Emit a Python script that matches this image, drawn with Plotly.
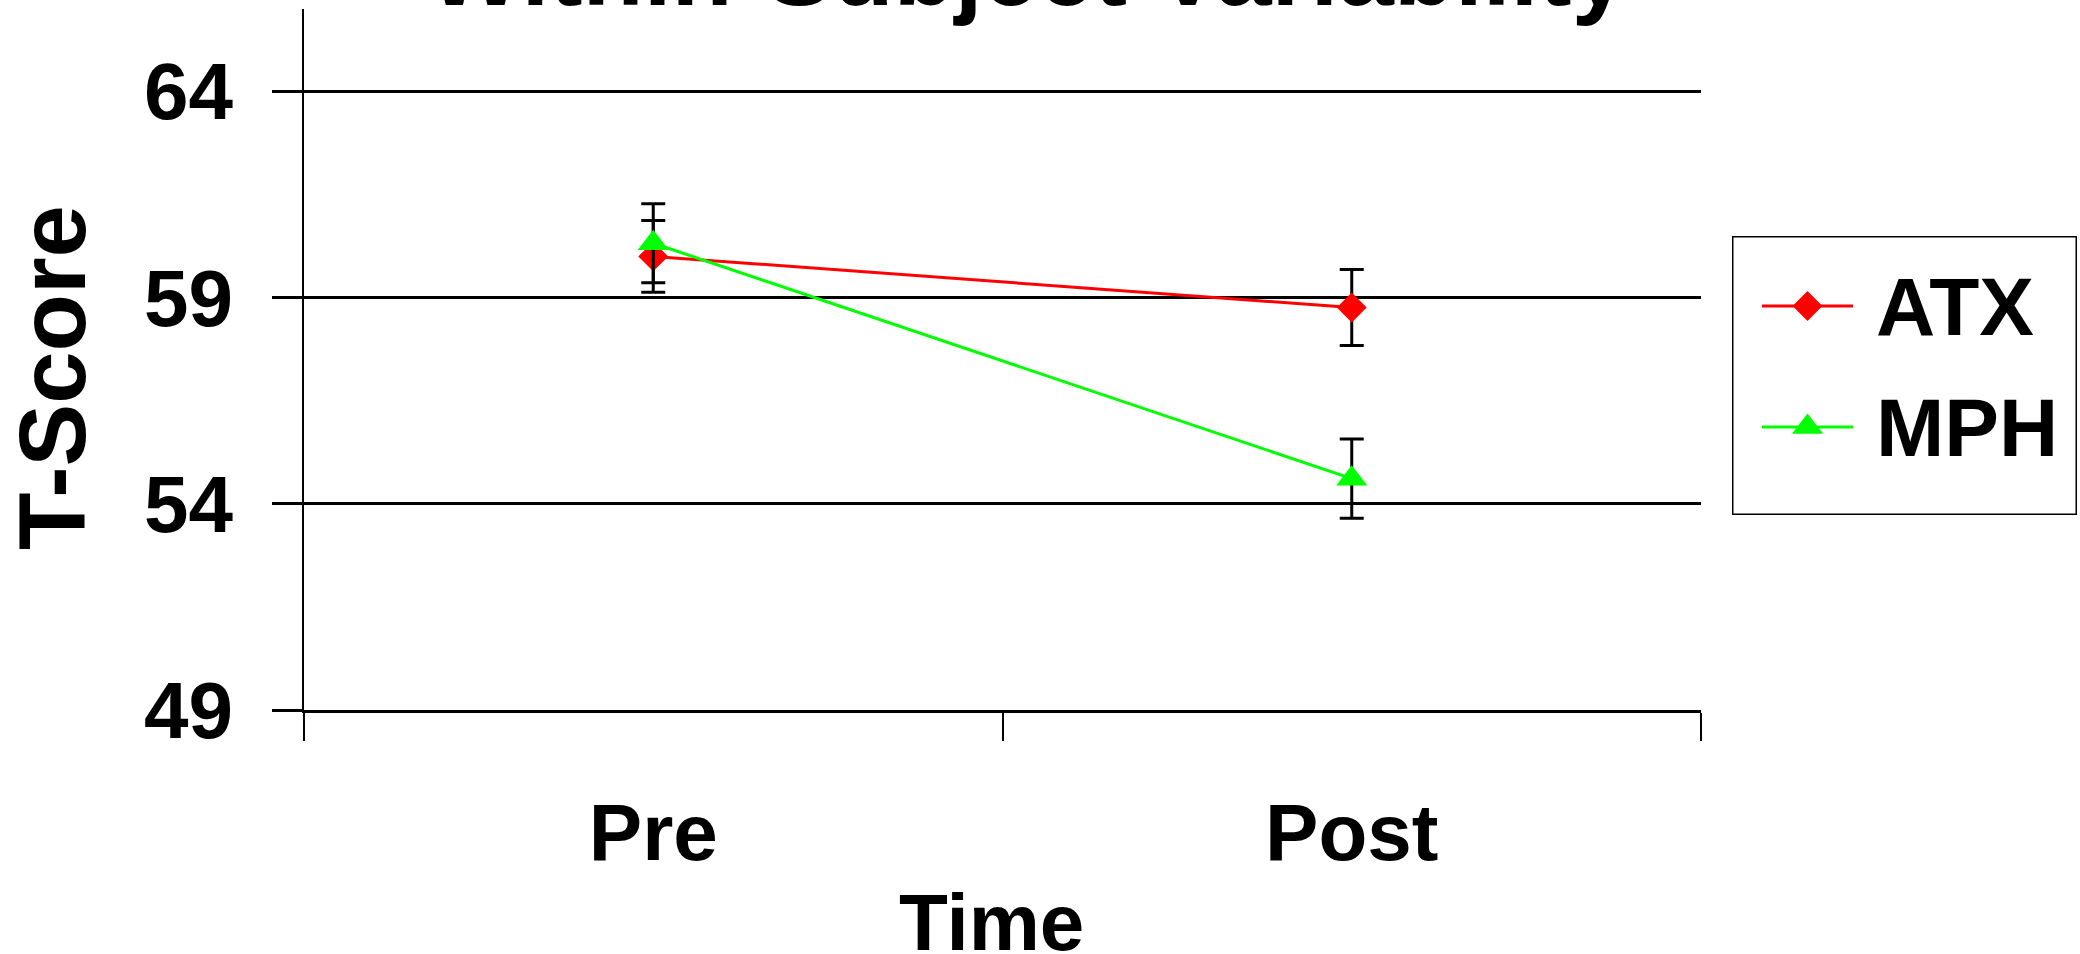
import plotly.graph_objects as go

# ---- data ----
times = ["Pre", "Post"]
atx_mean = [60.0, 58.76]
atx_err = [0.87, 0.92]
mph_mean = [60.32, 54.61]
mph_err = [0.96, 0.96]
series_names = ["ATX", "MPH"]
y_ticks = [49, 54, 59, 64]

W, H = 2080, 954
ML, MR, MT, MB = 304, 0, 9, 244
PW = W - ML - MR
PH = H - MT - MB
PLOT_W = 1397

def px_x(p):
    return (p - ML) / PW

def px_y(p):
    return (H - MB - p) / PH

FONT = "Arial, Liberation Sans, sans-serif"
RED = "#FF0000"
GREEN = "#00FF00"
D_SIZE, T_SIZE = 23, 27

fig = go.Figure()

fig.add_trace(go.Scatter(
    x=times, y=atx_mean, name=series_names[0], mode="lines+markers",
    line=dict(color=RED, width=3),
    marker=dict(symbol="diamond", size=D_SIZE, color=RED),
    error_y=dict(type="data", array=atx_err, visible=True, color="black", thickness=3, width=12),
    xaxis="x", yaxis="y", showlegend=False,
))
fig.add_trace(go.Scatter(
    x=times, y=mph_mean, name=series_names[1], mode="lines+markers",
    line=dict(color=GREEN, width=3),
    marker=dict(symbol="triangle-up", size=T_SIZE, color=GREEN),
    error_y=dict(type="data", array=mph_err, visible=True, color="black", thickness=3, width=12),
    xaxis="x", yaxis="y", showlegend=False,
))

# ---- custom legend (drawn on a hidden helper axis) ----
LX0, LX1, LY0, LY1 = 1732, 2077, 236, 515
rows = [306, 427]
legend_styles = [(RED, "diamond", D_SIZE), (GREEN, "triangle-up", T_SIZE)]
for name, row, (col, sym, sz) in zip(series_names, rows, legend_styles):
    fig.add_trace(go.Scatter(
        x=[1762, 1853], y=[row, row], mode="lines",
        line=dict(color=col, width=3),
        xaxis="x2", yaxis="y2", showlegend=False, hoverinfo="skip",
    ))
    fig.add_trace(go.Scatter(
        x=[1807.5], y=[row], mode="markers",
        marker=dict(symbol=sym, size=sz, color=col),
        xaxis="x2", yaxis="y2", showlegend=False, hoverinfo="skip",
    ))
    fig.add_annotation(
        x=1874, y=row, xref="x2", yref="y2", text=name, showarrow=False,
        xanchor="left", yanchor="middle",
        font=dict(family=FONT, size=82, color="black", weight="bold"),
    )
fig.add_shape(type="rect", xref="x2", yref="y2", x0=LX0, x1=LX1, y0=LY0, y1=LY1,
              line=dict(color="black", width=3), fillcolor="rgba(0,0,0,0)")

fig.update_layout(
    width=W, height=H,
    margin=dict(l=ML, r=MR, t=MT, b=MB, pad=0),
    paper_bgcolor="white", plot_bgcolor="white",
    showlegend=False,
    xaxis=dict(
        domain=[0, PLOT_W / PW], type="category", range=[-0.5, 1.5],
        tickson="boundaries", ticks="outside", ticklen=28, tickwidth=2, tickcolor="black",
        showgrid=False, zeroline=False,
        showline=True, linecolor="black", linewidth=3,
        tickfont=dict(family=FONT, size=80, color="black", weight="bold"),
        ticklabelstandoff=51,
    ),
    yaxis=dict(
        range=[49, 66], tickvals=y_ticks, ticktext=[str(v) for v in y_ticks],
        ticks="outside", ticklen=30, tickwidth=3, tickcolor="black",
        showgrid=True, gridcolor="black", gridwidth=3,
        zeroline=False, showline=True, linecolor="black", linewidth=2,
        tickfont=dict(family=FONT, size=80, color="black", weight="bold"),
        ticklabelstandoff=23,
    ),
    xaxis2=dict(domain=[px_x(LX0), px_x(LX1)], range=[LX0, LX1], visible=False, anchor="y2", fixedrange=True),
    yaxis2=dict(domain=[px_y(LY1), px_y(LY0)], range=[LY1, LY0], visible=False, anchor="x2", fixedrange=True),
)

# titles
fig.add_annotation(
    x=px_x(1028), y=px_y(-30), xref="paper", yref="paper", text="Within-Subject Variability",
    showarrow=False, xanchor="center", yanchor="middle",
    font=dict(family=FONT, size=100, color="black", weight="bold"),
)
fig.add_annotation(
    x=px_x(991), y=px_y(922), xref="paper", yref="paper", text="Time",
    showarrow=False, xanchor="center", yanchor="middle",
    font=dict(family=FONT, size=80, color="black", weight="bold"),
)
fig.add_annotation(
    x=px_x(52), y=px_y(378), xref="paper", yref="paper", text="T-Score",
    showarrow=False, xanchor="center", yanchor="middle", textangle=-90,
    font=dict(family=FONT, size=94, color="black", weight="bold"),
)

fig.write_html("out.html")
